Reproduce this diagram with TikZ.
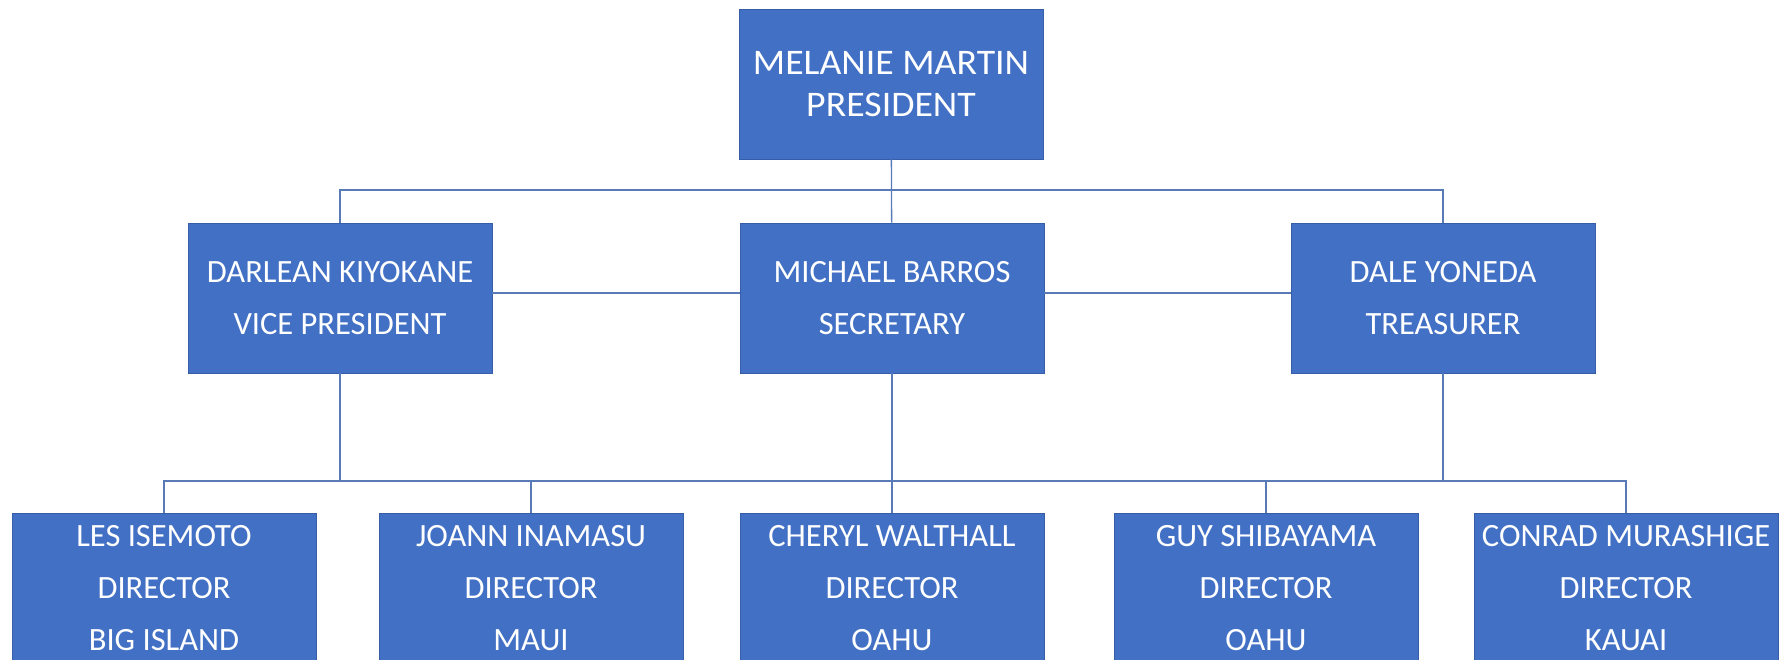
\documentclass[tikz,border=0pt]{standalone}
\usepackage{fontspec}
\setmainfont{Carlito}
\usepackage{tikz}
\usetikzlibrary{calc}

\definecolor{boxblue}{RGB}{66,112,196}
\definecolor{boxedge}{RGB}{54,94,168}
\definecolor{linkblue}{RGB}{88,122,182}

\tikzset{
	person/.style={rectangle, fill=boxblue, draw=boxedge, line width=0.8pt, text=white,
		minimum width=304pt, minimum height=150pt, inner sep=0pt, align=center,
		font=\fontsize{32.5}{52}\selectfont},
	chief/.style={person, font=\addfontfeature{FakeStretch=1.05}\fontsize{36}{42}\selectfont},
	link/.style={draw=linkblue, line width=1.3pt}
}

\begin{document}
\begin{tikzpicture}[x=1pt, y=-1pt]
		\useasboundingbox (0,0) rectangle (1784,660);
		\clip (0,0) rectangle (1784,660);

		% top
		\node[chief] (pres) at (891,84) {MELANIE MARTIN\\PRESIDENT};

		% officers
		\node[person] (vp) at (340,298) {DARLEAN KIYOKANE\\VICE PRESIDENT};
		\node[person] (sec) at (892,298) {MICHAEL BARROS\\SECRETARY};
		\node[person] (tr) at (1443,298) {DALE YONEDA\\TREASURER};

		% directors
		\node[person] (d1) at (164,588) {LES ISEMOTO\\DIRECTOR\\BIG ISLAND};
		\node[person] (d2) at (531,588) {JOANN INAMASU\\DIRECTOR\\MAUI};
		\node[person] (d3) at (892,588) {CHERYL WALTHALL\\DIRECTOR\\OAHU};
		\node[person] (d4) at (1266,588) {GUY SHIBAYAMA\\DIRECTOR\\OAHU};
		\node[person] (d5) at (1626,588) {CONRAD MURASHIGE\\DIRECTOR\\KAUAI};

		\coordinate (busA) at (892,190);
		\coordinate (busB) at (892,481);

		\draw[link] (pres) -- (sec);
		\draw[link] (vp.north) |- (busA) -| (tr.north);
		\draw[link] ([yshift=5pt]vp.east) -- ([yshift=5pt]sec.west);
		\draw[link] ([yshift=5pt]sec.east) -- ([yshift=5pt]tr.west);

		\draw[link] (sec) -- (d3);
		\draw[link] (vp.south) |- (busB);
		\draw[link] (tr.south) |- (busB);
		\draw[link] (d1.north) |- (busB) -| (d5.north);
		\draw[link] (d2.north) |- (busB);
		\draw[link] (d4.north) |- (busB);
	\end{tikzpicture}
\end{document}
